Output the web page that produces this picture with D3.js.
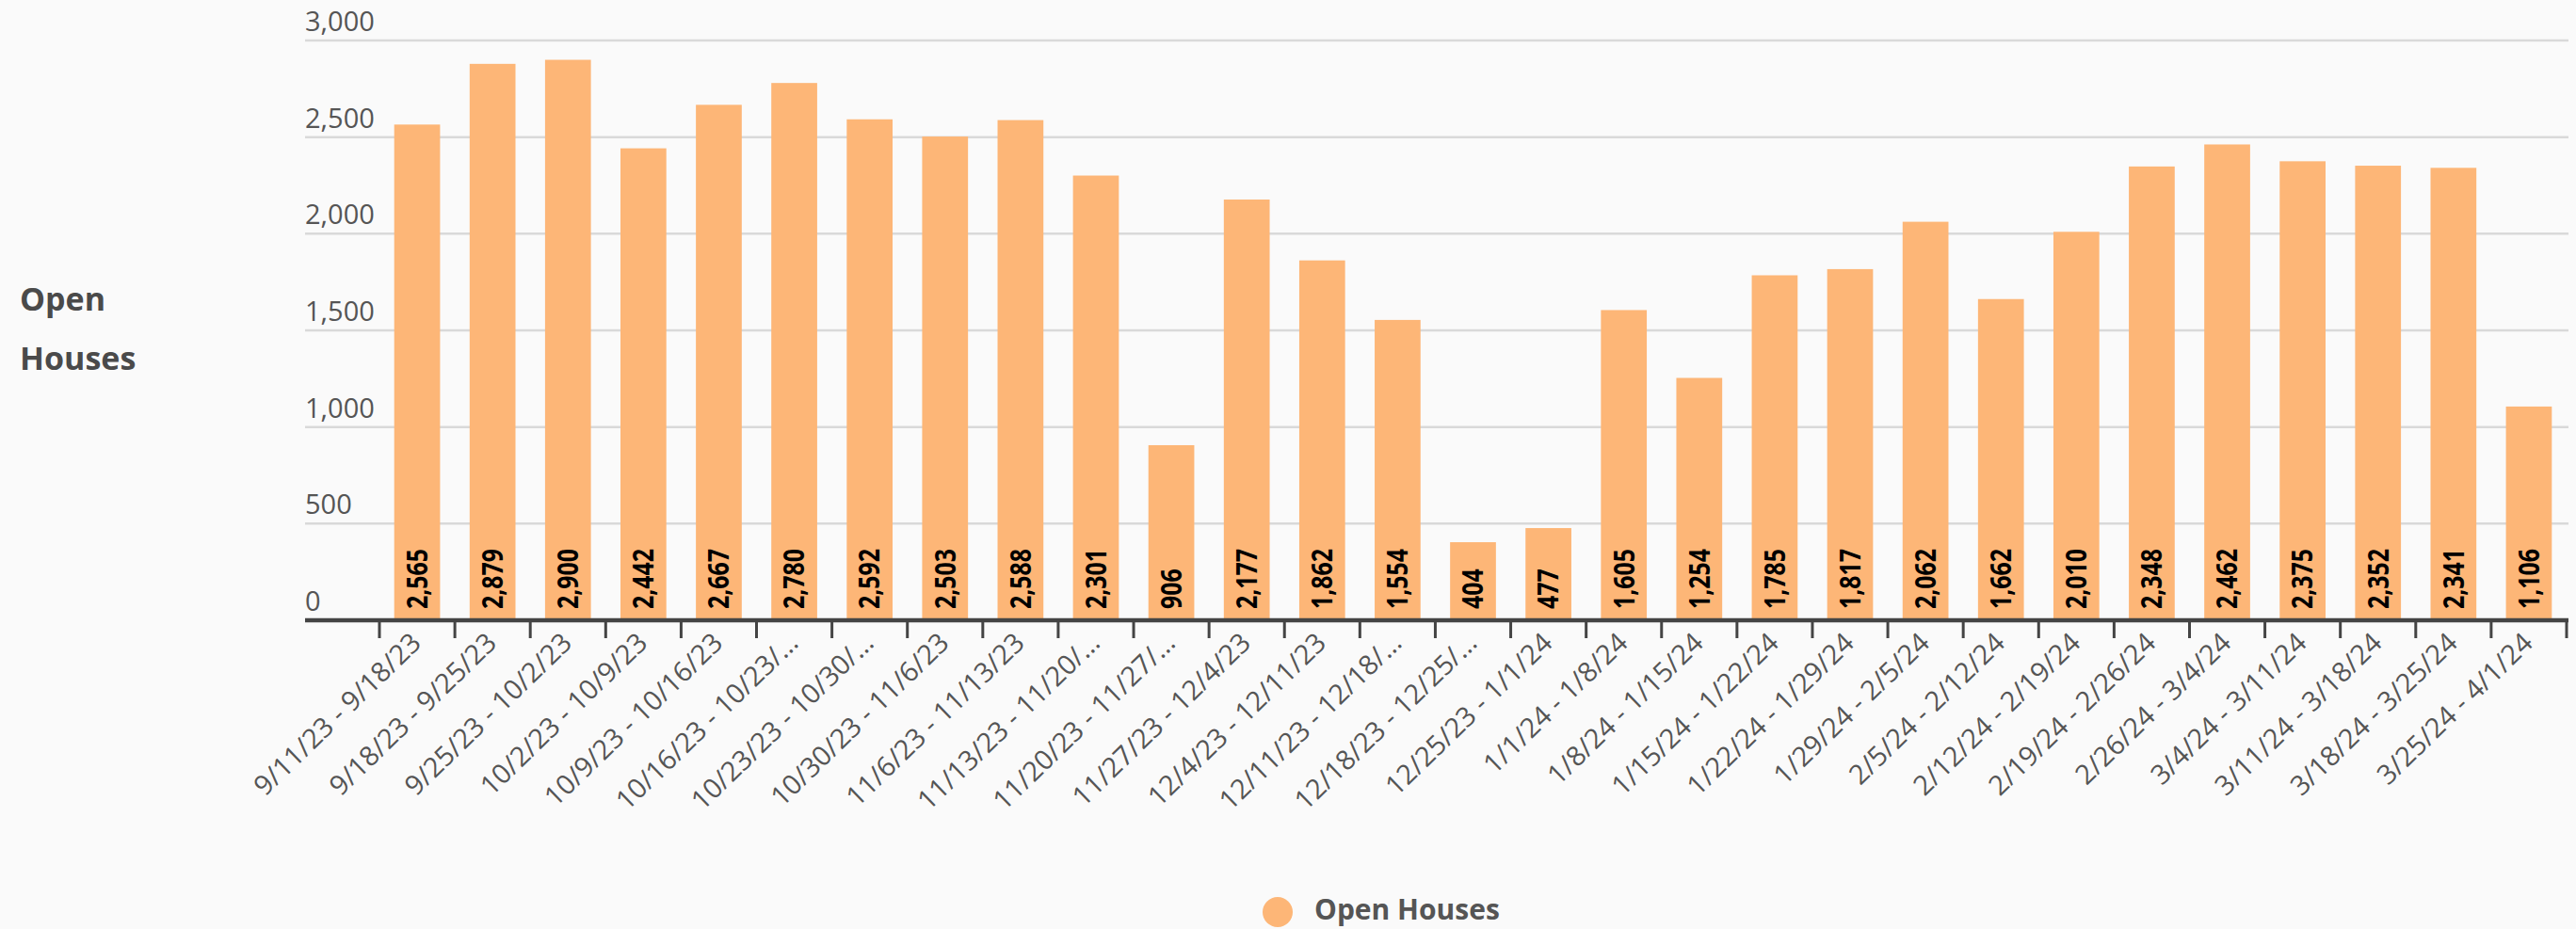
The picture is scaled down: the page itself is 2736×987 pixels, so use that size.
<!DOCTYPE html>
<html>
<head>
<meta charset="utf-8">
<script src="https://cdn.jsdelivr.net/npm/d3@7"></script>
<style>
  html, body { margin: 0; padding: 0; background: #fafafa; }
  svg { display: block; }
</style>
</head>
<body>
<svg id="chart" width="2736" height="987"></svg>
<script>
// ---- data ----
const categories = [
  "9/11/23 - 9/18/23", "9/18/23 - 9/25/23", "9/25/23 - 10/2/23", "10/2/23 - 10/9/23",
  "10/9/23 - 10/16/23", "10/16/23 - 10/23/23", "10/23/23 - 10/30/23", "10/30/23 - 11/6/23",
  "11/6/23 - 11/13/23", "11/13/23 - 11/20/23", "11/20/23 - 11/27/23", "11/27/23 - 12/4/23",
  "12/4/23 - 12/11/23", "12/11/23 - 12/18/23", "12/18/23 - 12/25/23", "12/25/23 - 1/1/24",
  "1/1/24 - 1/8/24", "1/8/24 - 1/15/24", "1/15/24 - 1/22/24", "1/22/24 - 1/29/24",
  "1/29/24 - 2/5/24", "2/5/24 - 2/12/24", "2/12/24 - 2/19/24", "2/19/24 - 2/26/24",
  "2/26/24 - 3/4/24", "3/4/24 - 3/11/24", "3/11/24 - 3/18/24", "3/18/24 - 3/25/24",
  "3/25/24 - 4/1/24"
];
const openHouses = [
  2565, 2879, 2900, 2442, 2667, 2780, 2592, 2503, 2588, 2301,
  906, 2177, 1862, 1554, 404, 477, 1605, 1254, 1785, 1817,
  2062, 1662, 2010, 2348, 2462, 2375, 2352, 2341, 1106
];
const yTicks = [0, 500, 1000, 1500, 2000, 2500, 3000];
const seriesName = "Open Houses";
const yTitleLines = ["Open", "Houses"];

// ---- layout ----
const svg = d3.select("#chart");
const plotLeft = 324, plotRight = 2728;
const bandLeft = 403, bandRight = 2726;
const yBottom = 659, yTop = 43;
const barColor = "#fdb677";
const fontFamily = "'Open Sans', 'Noto Sans', sans-serif";

const x = d3.scaleBand()
  .domain(categories)
  .range([bandLeft, bandRight])
  .paddingInner(0.392)
  .paddingOuter(0.196);
const y = d3.scaleLinear().domain([0, 3000]).range([yBottom, yTop]);

const fmt = d3.format(",");
const gap = (x.step() - x.bandwidth()) / 2;

// gridlines
svg.append("g").selectAll("line")
  .data(yTicks.filter(d => d !== 0))
  .join("line")
  .attr("x1", plotLeft).attr("x2", plotRight)
  .attr("y1", d => y(d)).attr("y2", d => y(d))
  .attr("stroke", "#d9d9d9").attr("stroke-width", 2.5);

// y tick labels
svg.append("g").selectAll("text")
  .data(yTicks)
  .join("text")
  .attr("x", plotLeft)
  .attr("y", d => y(d) - 10)
  .attr("font-family", fontFamily)
  .attr("font-size", 29)
  .attr("fill", "#555")
  .text(d => fmt(d));

// y title
svg.append("g").selectAll("text")
  .data(yTitleLines)
  .join("text")
  .attr("x", 21)
  .attr("y", (d, i) => 330 + i * 63)
  .attr("font-family", fontFamily)
  .attr("font-weight", "bold")
  .attr("font-size", 34)
  .attr("fill", "#4a4a4a")
  .text(d => d);

// bars
svg.append("g").selectAll("rect")
  .data(openHouses)
  .join("rect")
  .attr("x", (d, i) => x(categories[i]))
  .attr("width", x.bandwidth())
  .attr("y", d => y(d))
  .attr("height", d => y(0) - y(d))
  .attr("fill", barColor);

// value labels
svg.append("g").selectAll("text")
  .data(openHouses)
  .join("text")
  .attr("transform", (d, i) => `translate(${x(categories[i]) + x.bandwidth() / 2},${y(0) - 12}) rotate(-90) scale(0.83,1)`)
  .attr("dy", "0.36em")
  .attr("text-anchor", "start")
  .attr("font-family", fontFamily)
  .attr("font-weight", "bold")
  .attr("font-size", 30)
  .attr("fill", "#000")
  .text(d => fmt(d));

// x axis line
svg.append("line")
  .attr("x1", plotLeft).attr("x2", plotRight)
  .attr("y1", yBottom).attr("y2", yBottom)
  .attr("stroke", "#444").attr("stroke-width", 4.5);

// tick marks at band boundaries
const tickPos = categories.map(c => x(c) - gap).concat([x(categories[categories.length - 1]) + x.bandwidth() + gap]);
svg.append("g").selectAll("line")
  .data(tickPos)
  .join("line")
  .attr("x1", d => d).attr("x2", d => d)
  .attr("y1", yBottom).attr("y2", yBottom + 19)
  .attr("stroke", "#444").attr("stroke-width", 3);

// x labels (truncated like the reference)
const truncate = s => s.length > 18 ? s.slice(0, 17) + "\u2026" : s;
svg.append("g").selectAll("text")
  .data(categories)
  .join("text")
  .attr("transform", d => `translate(${x(d) + x.bandwidth() / 2 + 6},${685}) rotate(-44)`)
  .attr("text-anchor", "end")
  .attr("font-family", fontFamily)
  .attr("font-size", 29)
  .attr("fill", "#555")
  .text(d => truncate(d));

// legend
const legend = svg.append("g");
legend.append("circle")
  .attr("cx", 1357).attr("cy", 969).attr("r", 16)
  .attr("fill", barColor);
legend.append("text")
  .attr("x", 1396).attr("y", 977)
  .attr("font-family", fontFamily)
  .attr("font-weight", "bold")
  .attr("font-size", 30)
  .attr("fill", "#555")
  .text(seriesName);
</script>
</body>
</html>
